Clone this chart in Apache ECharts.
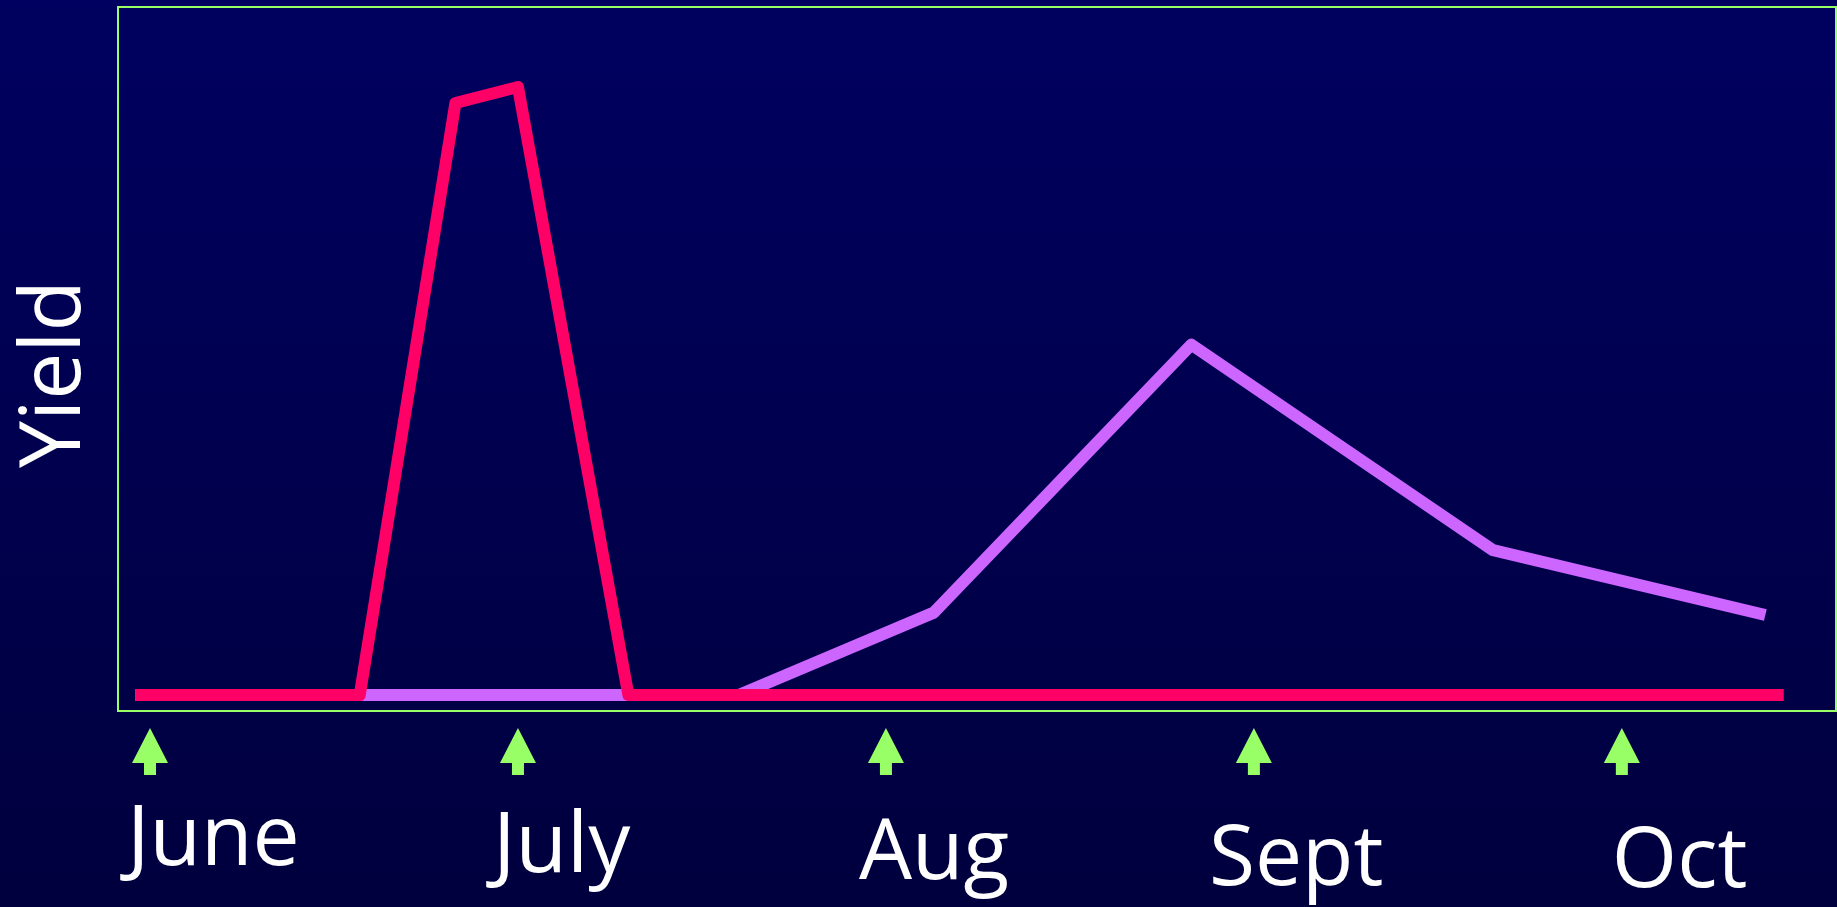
<!DOCTYPE html>
<html>
<head>
<meta charset="utf-8">
<script src="https://cdn.jsdelivr.net/npm/echarts@6/dist/echarts.min.js"></script>
<style>
  html, body { margin: 0; padding: 0; }
  #chart { width: 1837px; height: 907px; }
</style>
</head>
<body>
<div id="chart"></div>
<script>
// month ticks (x in months, June = 0)
const months = ["June", "July", "Aug", "Sept", "Oct"];
const monthTicks = [0, 1, 2, 3, 4];

// early crop (red) - sharp peak around July
const earlyX = [-0.04, 0.57, 0.83, 1.0, 1.3, 4.44];
const earlyYield = [0, 0, 74, 76, 0, 0];

// late crop (purple) - broad peak in late Aug
const lateX = [-0.04, 1.6, 2.13, 2.83, 3.65, 4.39];
const lateYield = [0, 0, 10.3, 43.8, 18.1, 10];

// label nudges [dx, dy] relative to the arrow, layout only
const labelNudge = [[-23, 90], [-25, 97], [-27, 104], [-45, 110], [-10, 112]];

const xMin = -0.087, xMax = 4.582;
const font = "'Open Sans', 'Noto Sans', sans-serif";

let chartDom = document.getElementById("chart");
let myChart = echarts.init(chartDom);

let option = {
  animation: false,
  backgroundColor: new echarts.graphic.LinearGradient(0, 0, 0, 1, [
    { offset: 0, color: "#000060" },
    { offset: 1, color: "#00003e" },
  ]),
  grid: [
    {
      left: 118,
      right: 1,
      top: 7,
      bottom: 196,
      show: true,
      borderColor: "#99ff66",
      borderWidth: 2,
      backgroundColor: "transparent",
    },
    { left: 118, right: 1, top: 720, height: 63, show: false },
  ],
  xAxis: [
    { type: "value", gridIndex: 0, min: xMin, max: xMax, show: false },
    { type: "value", gridIndex: 1, min: xMin, max: xMax, show: false },
  ],
  yAxis: [
    {
      type: "value",
      gridIndex: 0,
      min: -2,
      max: 86,
      axisLine: { show: false },
      axisTick: { show: false },
      axisLabel: { show: false },
      splitLine: { show: false },
      name: "Yield",
      nameLocation: "middle",
      nameGap: 20,
      nameTextStyle: {
        color: "#ffffff",
        fontSize: 84,
        fontFamily: font,
        padding: [0, 30, 0, 0],
      },
    },
    { type: "value", gridIndex: 1, min: -1, max: 1, show: false },
  ],
  series: [
    {
      name: "late",
      type: "line",
      xAxisIndex: 0,
      yAxisIndex: 0,
      symbol: "none",
      lineStyle: { color: "#cc66ff", width: 12, join: "round", cap: "butt" },
      data: lateX.map((x, i) => [x, lateYield[i]]),
    },
    {
      name: "early",
      type: "line",
      xAxisIndex: 0,
      yAxisIndex: 0,
      symbol: "none",
      lineStyle: { color: "#ff0066", width: 12, join: "round", cap: "butt" },
      data: earlyX.map((x, i) => [x, earlyYield[i]]),
    },
    {
      name: "months",
      type: "scatter",
      xAxisIndex: 1,
      yAxisIndex: 1,
      clip: false,
      silent: true,
      symbol: "path://M18,0 L36,35 L24,35 L24,47 L12,47 L12,35 L0,35 Z",
      symbolSize: [36, 47],
      itemStyle: { color: "#99ff66", opacity: 1 },
      label: {
        show: true,
        position: "inside",
        align: "left",
        verticalAlign: "middle",
        color: "#ffffff",
        opacity: 1,
        textBorderWidth: 0,
        fontSize: 84,
        fontFamily: font,
        formatter: (p) => p.name,
      },
      data: months.map((m, i) => ({
        name: m,
        value: [monthTicks[i], 0],
        label: { offset: labelNudge[i] },
      })),
    },
  ],
};
option && myChart.setOption(option);
</script>
</body>
</html>
